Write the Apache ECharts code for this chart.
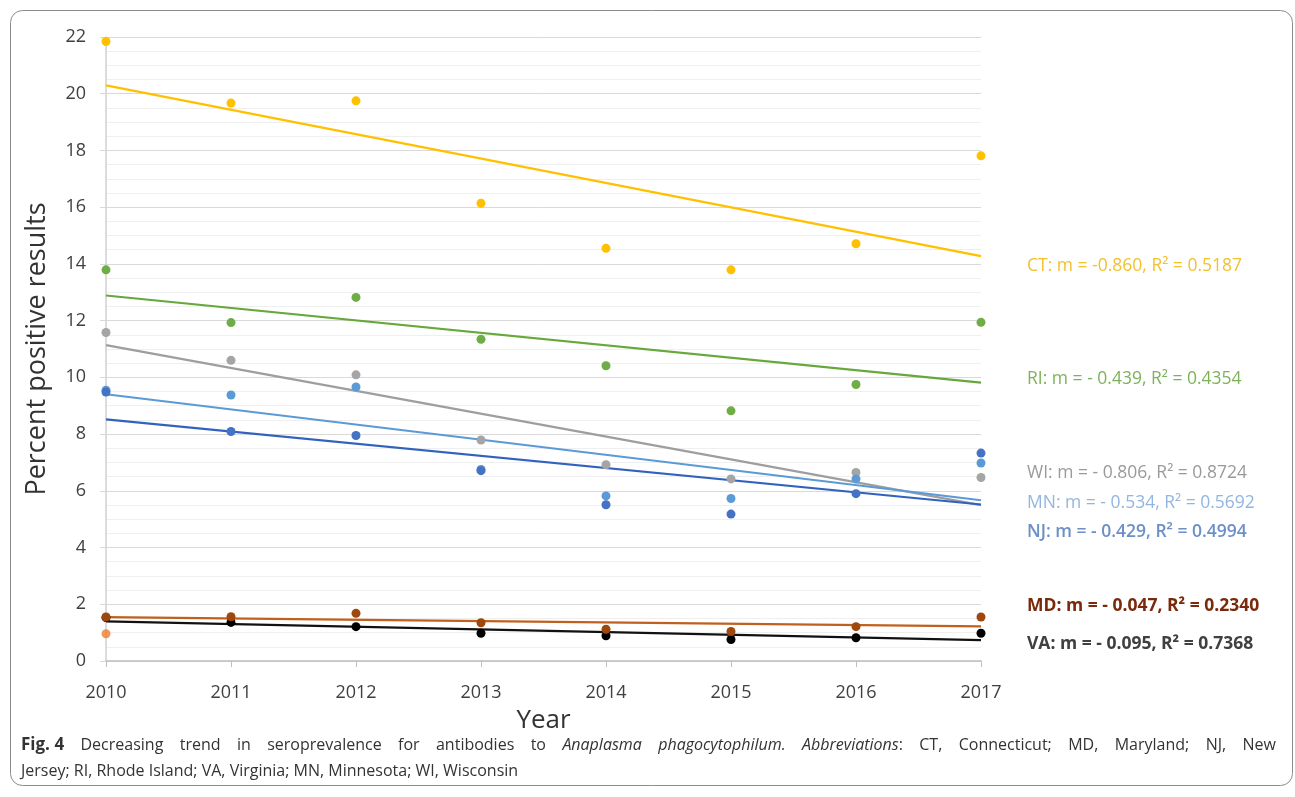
<!DOCTYPE html>
<html>
<head>
<meta charset="utf-8">
<script src="https://cdn.jsdelivr.net/npm/echarts@6/dist/echarts.min.js"></script>
<style>
  html, body { margin: 0; padding: 0; background: #ffffff; }
  #chart { width: 1295px; height: 797px; }
</style>
</head>
<body>
<div id="chart"></div>
<script>
// Survey years
const years = [2010, 2011, 2012, 2013, 2014, 2015, 2016, 2017];

// Percent positive results per state and year
const ctValues = [21.84, 19.67, 19.75, 16.14, 14.55, 13.79, 14.71, 17.81];
const riValues = [13.79, 11.93, 12.82, 11.34, 10.41, 8.82, 9.75, 11.94];
const wiValues = [11.58, 10.60, 10.09, 7.79, 6.92, 6.42, 6.65, 6.47];
const mnValues = [9.55, 9.38, 9.66, 6.75, 5.82, 5.73, 6.42, 6.98];
const njValues = [9.48, 8.09, 7.95, 6.71, 5.51, 5.18, 5.90, 7.33];
const mdValues = [1.55, 1.56, 1.68, 1.35, 1.12, 1.04, 1.21, 1.55];
const vaValues = [1.53, 1.36, 1.21, 0.98, 0.89, 0.76, 0.82, 0.98];
// single extra point plotted in 2010
const extraPoint = [[2010, 0.96]];

// Trend-line slopes and fit quality
const stateCodes = ['CT', 'RI', 'WI', 'MN', 'NJ', 'MD', 'VA'];
const slopes = [-0.860, -0.439, -0.806, -0.534, -0.429, -0.047, -0.095];
const slopeText = ['-0.860', '- 0.439', '- 0.806', '- 0.534', '- 0.429', '- 0.047', '- 0.095'];
const rSquared = ['0.5187', '0.4354', '0.8724', '0.5692', '0.4994', '0.2340', '0.7368'];

// Y axis ticks
const yMin = 0, yMax = 22, yStep = 2;

// Figure caption: first line is justified, second line is left aligned
// each word is a list of [text, style] pieces (b = bold, i = italic, n = normal)
const captionLine1 = [
  [['Fig. 4', 'b']],
  [['Decreasing', 'n']], [['trend', 'n']], [['in', 'n']], [['seroprevalence', 'n']],
  [['for', 'n']], [['antibodies', 'n']], [['to', 'n']],
  [['Anaplasma', 'i']], [['phagocytophilum.', 'i']], [['Abbreviations', 'i'], [':', 'n']],
  [['CT,', 'n']], [['Connecticut;', 'n']], [['MD,', 'n']], [['Maryland;', 'n']],
  [['NJ,', 'n']], [['New', 'n']]
];
const captionLine2 = 'Jersey; RI, Rhode Island; VA, Virginia; MN, Minnesota; WI, Wisconsin';

const seriesValues = [ctValues, riValues, wiValues, mnValues, njValues, mdValues, vaValues];
const pointColors = ['#FFC000', '#70AD47', '#A5A5A5', '#5B9BD5', '#4472C4', '#9E480E', '#000000'];
const lineColors  = ['#FFC000', '#66A83A', '#9E9E9E', '#5B9BD5', '#3262BE', '#C0601E', '#111111'];
const labelColors = ['#F2C12E', '#7DB25A', '#9A9A9A', '#93B6DE', '#6D8FC7', '#7A2A0A', '#404040'];
const labelWeights = ['normal', 'normal', 'normal', 'normal', '600', 'bold', 'bold'];
const labelY = [268, 381, 475, 505, 534, 608, 646];

// least-squares line through the data mean with the stated slope
function trendLine(values, slope) {
  const xMean = years.reduce((a, b) => a + b, 0) / years.length;
  const yMean = values.reduce((a, b) => a + b, 0) / values.length;
  const x0 = years[0], x1 = years[years.length - 1];
  return [[x0, yMean + slope * (x0 - xMean)], [x1, yMean + slope * (x1 - xMean)]];
}

const series = [];
// trend lines first so the dots sit on top
stateCodes.forEach((code, i) => {
  series.push({
    name: code + ' trend',
    type: 'line',
    data: trendLine(seriesValues[i], slopes[i]),
    symbol: 'none',
    lineStyle: { color: lineColors[i], width: 2.2 },
    z: 2,
    silent: true
  });
});
// draw order of the dots
const dotOrder = [0, 1, 2, 3, 4, 6, 5];
dotOrder.forEach(i => {
  series.push({
    name: stateCodes[i],
    type: 'scatter',
    data: years.map((y, k) => [y, seriesValues[i][k]]),
    symbolSize: 9,
    itemStyle: { color: pointColors[i], opacity: 1 },
    z: 3
  });
});
series.push({
  name: 'other',
  type: 'scatter',
  data: extraPoint,
  symbolSize: 9,
  itemStyle: { color: '#ED7D31' },
  z: 3
});

const labelFont = '"Open Sans", "Liberation Sans", sans-serif';
const annotations = stateCodes.map((code, i) => ({
  type: 'text',
  left: 1027,
  top: labelY[i] - 11,
  style: {
    text: code + ': m = ' + slopeText[i] + ', R\u00B2 = ' + rSquared[i],
    fill: labelColors[i],
    font: labelWeights[i] + ' 17.5px ' + labelFont
  }
}));

// caption layout
const captionFont = '"Open Sans", "Noto Sans", sans-serif';
const captionFonts = {
  b: 'bold 17px ' + captionFont,
  i: 'italic 16px ' + captionFont,
  n: '16px ' + captionFont
};
const measureCtx = document.createElement('canvas').getContext('2d');
function pieceWidth(text, style) {
  measureCtx.font = captionFonts[style];
  return measureCtx.measureText(text).width;
}
const captionLeft = 21, captionRight = 1276, captionTop1 = 737, captionTop2 = 763;
const wordWidths = captionLine1.map(word => word.reduce((s, p) => s + pieceWidth(p[0], p[1]), 0));
const totalWords = wordWidths.reduce((a, b) => a + b, 0);
const wordGap = (captionRight - captionLeft - totalWords) / (captionLine1.length - 1);
const captionElements = [];
let cx = captionLeft;
captionLine1.forEach((word, w) => {
  let px = cx;
  word.forEach(p => {
    captionElements.push({
      type: 'text',
      x: px,
      y: captionTop1,
      style: { text: p[0], font: captionFonts[p[1]], fill: '#333333' },
      silent: true
    });
    px += pieceWidth(p[0], p[1]);
  });
  cx += wordWidths[w] + wordGap;
});
captionElements.push({
  type: 'text',
  x: captionLeft,
  y: captionTop2,
  style: { text: captionLine2, font: captionFonts.n, fill: '#333333' },
  silent: true
});

const chart = echarts.init(document.getElementById('chart'), null, { renderer: 'canvas' });
chart.setOption({
  backgroundColor: '#ffffff',
  animation: false,
  grid: { left: 106, right: 314, top: 37, bottom: 136, containLabel: false },
  xAxis: {
    type: 'value',
    min: years[0],
    max: years[years.length - 1],
    interval: 1,
    name: 'Year',
    nameLocation: 'middle',
    nameGap: 47,
    nameTextStyle: { fontSize: 26, color: '#333333', fontFamily: labelFont },
    axisLine: { show: true, lineStyle: { color: '#BFBFBF', width: 1.5 } },
    axisTick: { show: true, length: 6, lineStyle: { color: '#BFBFBF' } },
    axisLabel: {
      margin: 23, fontSize: 18, color: '#404040', fontFamily: labelFont,
      formatter: v => String(v)
    },
    splitLine: { show: false }
  },
  yAxis: {
    type: 'value',
    min: yMin,
    max: yMax,
    interval: yStep,
    name: 'Percent positive results',
    nameLocation: 'middle',
    nameGap: 55,
    nameRotate: 90,
    nameTextStyle: { fontSize: 27, color: '#333333', fontFamily: labelFont },
    axisLine: { show: true, lineStyle: { color: '#D0D0D0', width: 1.5 } },
    axisTick: { show: true, length: 6, lineStyle: { color: '#D9D9D9' } },
    axisLabel: { margin: 20, fontSize: 18, color: '#404040', fontFamily: labelFont },
    splitLine: { show: true, lineStyle: { color: '#D9D9D9', width: 1 } },
    minorTick: { show: false, splitNumber: 4 },
    minorSplitLine: { show: true, lineStyle: { color: '#EFEFEF', width: 1 } }
  },
  series: series,
  graphic: [
    {
      type: 'rect',
      shape: { x: 10.5, y: 10.5, width: 1282, height: 775, r: 12 },
      style: { fill: 'none', stroke: '#8C8C8C', lineWidth: 1 },
      silent: true,
      z: 0
    },
    ...annotations,
    ...captionElements
  ]
});
</script>
</body>
</html>
